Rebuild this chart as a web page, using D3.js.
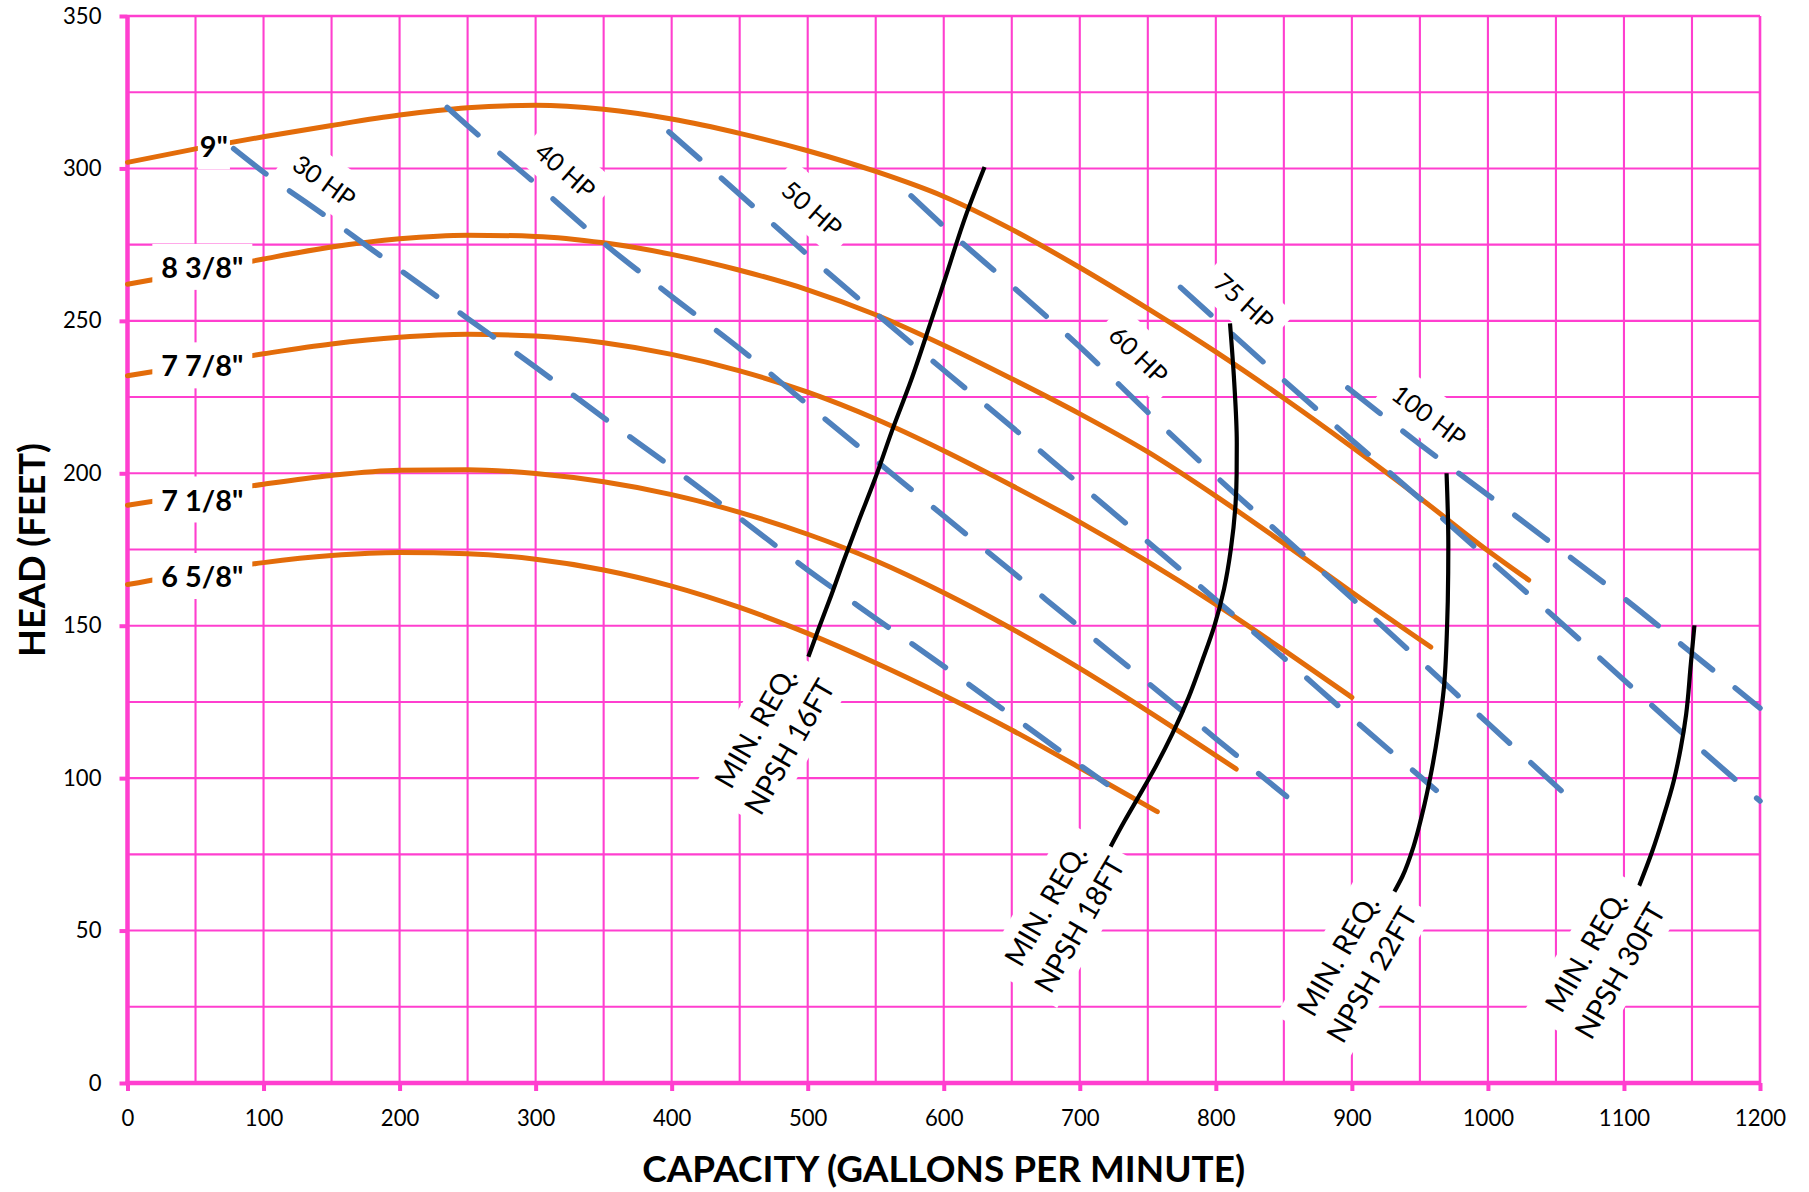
<!DOCTYPE html>
<html>
<head>
<meta charset="utf-8">
<script src="https://cdn.jsdelivr.net/npm/d3@7/dist/d3.min.js"></script>
<style>
html,body{margin:0;padding:0;background:#fff;}
svg{display:block;}
</style>
</head>
<body>
<svg id="chart" width="1809" height="1192"></svg>
<script>
// ================= DATA =================
const xTicks = [0,100,200,300,400,500,600,700,800,900,1000,1100,1200];
const yTicks = [0,50,100,150,200,250,300,350];
const xTitle = "CAPACITY (GALLONS PER MINUTE)";
const yTitle = "HEAD (FEET)";

// impeller diameter curves  [gpm, feet]
const impellerNames = ['9"', '8 3/8"', '7 7/8"', '7 1/8"', '6 5/8"'];
const imp9   = [[0,302],[50,306.4],[100,310.4],[150,314.1],[200,317.5],[250,319.9],[300,320.7],[350,319.4],[400,316.2],[450,311.5],[500,305.8],[550,299],[600,290.8],[650,280],[700,267.5],[750,254],[800,239.8],[850,224.6],[900,208.6],[950,191.9],[1000,174.6],[1030,165]];
const imp838 = [[0,262],[50,266],[100,270.3],[150,274.2],[200,276.9],[250,278.1],[300,277.7],[350,275.6],[400,271.8],[450,266.6],[500,260.2],[550,252],[600,242],[650,231],[700,219.5],[750,207],[800,192.5],[850,177],[900,161],[958,143]];
const imp778 = [[0,232],[50,235.6],[100,239.2],[150,242.4],[200,244.6],[250,245.6],[300,245],[350,242.8],[400,239],[450,233.6],[500,226.6],[550,217.8],[600,207.4],[650,196],[700,184],[750,171],[800,157],[850,142],[900,126.5]];
const imp718 = [[0,189.5],[50,193],[100,196.4],[150,199.3],[200,201],[250,201.2],[300,199.9],[350,197.2],[400,193],[450,187.2],[500,180],[550,171.3],[600,160.8],[650,149],[700,136],[750,122],[815,103]];
const imp658 = [[0,163.5],[50,167.4],[100,170.7],[150,173],[200,174],[250,173.6],[300,171.8],[350,168.3],[400,163],[450,156],[500,147.5],[550,137.8],[600,127.2],[650,115.8],[700,103.4],[757,89]];
const impellerLabelAt = [[63.5,307],[55,267.5],[55,235.2],[55,191.2],[55,166.1]];

// horsepower lines [gpm, feet]
const hpNames = ["30 HP","40 HP","50 HP","60 HP","75 HP","100 HP"];
const hp30  = [[78,306.5],[100,298.8],[150,283],[200,266.8],[250,250.8],[300,234.8],[350,218.2],[400,202],[450,185.3],[500,168.3],[550,152.4],[600,136.7],[650,120.5],[700,104.3],[720,98]];
const hp40  = [[235,320],[250,314],[300,295],[350,275.5],[400,258],[450,240.9],[500,222.5],[550,204.2],[600,186],[650,167.8],[700,149.5],[750,131.3],[800,113],[852,94]];
const hp50  = [[398,312],[450,291.5],[500,271.6],[550,252.5],[600,233.8],[650,215.2],[700,196.3],[750,177.5],[800,158.5],[850,139.4],[900,119.8],[962,96]];
const hp60  = [[576,291],[600,281],[650,261.5],[700,241.5],[750,220],[800,199],[850,179],[900,159],[950,138.6],[1000,118],[1061,93]];
const hp75  = [[774,261],[800,250.5],[850,230.5],[900,210.9],[950,191.7],[1000,172],[1050,152.4],[1100,132.2],[1150,112],[1200,92.5]];
const hp100 = [[897,228],[950,209.5],[1000,192.9],[1050,176],[1100,159],[1150,141],[1200,123]];
const hpLabelAt = [[144.6,295.8],[321.8,299.3],[503.2,286.7],[743.1,238.8],[820.7,256.3],[956.7,218.8]];

// minimum required NPSH lines [gpm, feet]
const npshNames = ["NPSH 16FT","NPSH 18FT","NPSH 22FT","NPSH 30FT"];
const npshPrefix = "MIN. REQ.";
const npsh16 = [[630,300.5],[617,285.5],[600,262.5],[590,249],[576,230.5],[562,214],[549,197.6],[538,185],[527,172],[516,158.4],[508,149],[500.5,139.8]];
const npsh18 = [[810.4,249.2],[813.5,230],[815.4,210],[815.3,200],[814.5,190],[811,175],[806,162],[799,150],[790,138.5],[780,126.5],[768,114.5],[756,104],[744,94.5],[733,86],[722,77]];
const npsh22 = [[969.6,200],[970.9,176.6],[970.5,158],[970,150],[967.5,129],[963.5,115.4],[958.3,101.8],[951.7,88.2],[945.2,77.4],[937.3,67.9],[930.8,62.4]];
const npsh30 = [[1151.8,150.1],[1149.1,137.2],[1145.7,120.9],[1141.8,110],[1136.6,99.1],[1128.7,86.9],[1120.8,76],[1110.4,63.8]];
const npshLabelAt = [[474.1,113.5],[687.3,55.1],[902.2,38.7],[1084.6,40]];

// ================= DRAWING =================
const FONT = "Lato, 'Open Sans', 'Noto Sans', sans-serif";
const PINK = "#FF3FCF", ORANGE = "#E36C0A", BLUE = "#4F81BD";

const svg = d3.select('#chart');
svg.append('rect').attr('width',1809).attr('height',1192).attr('fill','#fff');

const x = d3.scaleLinear().domain([0,1200]).range([127.5,1760]);
const y = d3.scaleLinear().domain([0,350]).range([1083,16]);

function fitSize(sample, weight, target, base){
  const t = svg.append('text').attr('font-family',FONT).attr('font-weight',weight)
     .attr('font-size',base).text(sample);
  const w = t.node().getComputedTextLength();
  t.remove();
  return base*target/w;
}

// grid
const grid = svg.append('g');
grid.selectAll('line.gv').data(d3.range(0,1201,50)).join('line').attr('class','gv')
  .attr('x1',d=>x(d)).attr('x2',d=>x(d)).attr('y1',y(0)).attr('y2',y(350))
  .attr('stroke',PINK).attr('stroke-width',d=>d===1200?2.6:2.1);
grid.selectAll('line.gh').data(d3.range(0,351,25)).join('line').attr('class','gh')
  .attr('y1',d=>y(d)).attr('y2',d=>y(d)).attr('x1',x(0)).attr('x2',x(1200))
  .attr('stroke',PINK).attr('stroke-width',d=>d===350?2.6:2.1);

// axes
const tickFs = fitSize("100",'normal',38.5,22);
const xAx = svg.append('g').attr('transform',`translate(0,${y(0)})`)
  .call(d3.axisBottom(x).tickValues(xTicks).tickSize(8).tickPadding(19).tickFormat(d=>String(d)));
xAx.select('.domain').remove();
xAx.selectAll('.tick line').attr('stroke',PINK).attr('stroke-width',4);
xAx.selectAll('.tick text').attr('fill','#000').attr('font-family',FONT).attr('font-size',tickFs);

const yAx = svg.append('g').attr('transform',`translate(${x(0)},0)`)
  .call(d3.axisLeft(y).tickValues(yTicks).tickSize(8).tickPadding(18).tickFormat(d=>String(d)));
yAx.select('.domain').remove();
yAx.selectAll('.tick line').attr('stroke',PINK).attr('stroke-width',4);
yAx.selectAll('.tick text').attr('fill','#000').attr('font-family',FONT).attr('font-size',tickFs);

svg.append('line').attr('x1',x(0)).attr('x2',x(0)).attr('y1',y(350)-1).attr('y2',y(0)+2)
  .attr('stroke',PINK).attr('stroke-width',4.5);
svg.append('line').attr('x1',x(0)-2).attr('x2',x(1200)+1).attr('y1',y(0)).attr('y2',y(0))
  .attr('stroke',PINK).attr('stroke-width',4.5);

// axis titles
const xtFs = fitSize(xTitle,'bold',603,34);
svg.append('text').attr('x',943.7).attr('y',1168.7).attr('dy','0.36em')
  .attr('text-anchor','middle').attr('font-family',FONT).attr('font-weight','bold')
  .attr('font-size',xtFs).attr('fill','#000').text(xTitle);
const ytFs = fitSize(yTitle,'bold',214,34);
svg.append('text').attr('transform','translate(32.3,550) rotate(-90)').attr('dy','0.36em')
  .attr('text-anchor','middle').attr('font-family',FONT).attr('font-weight','bold')
  .attr('font-size',ytFs).attr('fill','#000').text(yTitle);

// series
const lineX = d3.line().x(d=>x(d[0])).y(d=>y(d[1])).curve(d3.curveMonotoneX);
const lineY = d3.line().x(d=>x(d[0])).y(d=>y(d[1])).curve(d3.curveMonotoneY);

const impellers = [imp9, imp838, imp778, imp718, imp658];
const hps = [hp30, hp40, hp50, hp60, hp75, hp100];
const npshs = [npsh16, npsh18, npsh22, npsh30];

svg.append('g').selectAll('path').data(impellers).join('path')
  .attr('d',lineX).attr('fill','none').attr('stroke',ORANGE).attr('stroke-width',5)
  .attr('stroke-linecap','round').attr('stroke-linejoin','round');

svg.append('g').selectAll('path').data(hps).join('path')
  .attr('d',lineX).attr('fill','none').attr('stroke',BLUE).attr('stroke-width',5.5)
  .attr('stroke-linecap','round').attr('stroke-dasharray','41 29');

svg.append('g').selectAll('path').data(npshs).join('path')
  .attr('d',lineY).attr('fill','none').attr('stroke','#000').attr('stroke-width',4.2)
  .attr('stroke-linecap','butt');

// labels with white boxes
const labelsG = svg.append('g');
function boxedText(cx, cy, angle, lines, fs, weight, gap, padX, padY){
  const g = labelsG.append('g').attr('transform',`translate(${cx},${cy}) rotate(${angle})`);
  const r = g.append('rect').attr('fill','#fff');
  const ts = lines.map((s,i)=> g.append('text')
      .attr('x',0).attr('y',(i-(lines.length-1)/2)*gap).attr('dy','0.36em')
      .attr('text-anchor','middle').attr('font-family',FONT).attr('font-size',fs)
      .attr('font-weight',weight).attr('fill','#000').text(s));
  let x0=Infinity,y0=Infinity,x1=-Infinity,y1=-Infinity;
  ts.forEach(t=>{const b=t.node().getBBox();
    x0=Math.min(x0,b.x); y0=Math.min(y0,b.y); x1=Math.max(x1,b.x+b.width); y1=Math.max(y1,b.y+b.height);});
  r.attr('x',x0-padX).attr('y',y0-padY).attr('width',x1-x0+2*padX).attr('height',y1-y0+2*padY);
}

// impeller labels
const impFs = fitSize('8 3/8"','bold',82,29);
impellerNames.forEach((n,i)=>{
  const p = impellerLabelAt[i];
  boxedText(x(p[0]), y(p[1]), 0, [n], impFs, 'bold', 0, n.length<3?2:9, 6);
});

// HP labels, rotated along their line
function slopeAngle(series, v){
  const a = Math.max(series[0][0], v-15), b = Math.min(series[series.length-1][0], v+15);
  const interp = vv => { for(let k=1;k<series.length;k++){ if(series[k][0]>=vv){
      const p=series[k-1], q=series[k]; const t=(vv-p[0])/(q[0]-p[0]); return p[1]+t*(q[1]-p[1]); } }
      return series[series.length-1][1]; };
  return Math.atan2(y(interp(b))-y(interp(a)), x(b)-x(a))*180/Math.PI;
}
const hpFs = fitSize('30 HP','normal',70,26);
hpNames.forEach((n,i)=>{
  const p = hpLabelAt[i];
  boxedText(x(p[0]), y(p[1]), slopeAngle(hps[i], p[0]), [n], hpFs, 'normal', 0, 11, 9);
});

// NPSH labels
const npFs = fitSize(npshPrefix,'normal',134,28);
npshNames.forEach((n,i)=>{
  const p = npshLabelAt[i];
  boxedText(x(p[0]), y(p[1]), -60, [npshPrefix, n], npFs, 'normal', 39, 8, 6);
});
</script>
</body>
</html>
